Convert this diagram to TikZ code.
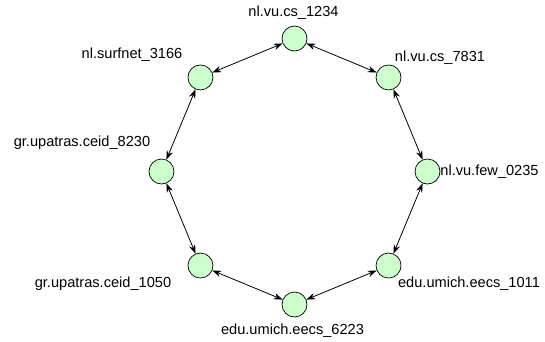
\documentclass[tikz,border=0pt]{standalone}
\usepackage{fontspec}
\setmainfont{Liberation Sans}
\usetikzlibrary{arrows.meta}
\definecolor{peerfill}{RGB}{204,255,204}

\begin{document}
\begin{tikzpicture}[x=1pt, y=1pt, font=\fontsize{14.6}{17}\selectfont,
        peer/.style={draw, circle, fill=peerfill, minimum size=25pt, inner sep=0pt, line width=0.7pt},
        link/.style={{Stealth[length=9pt,width=6.5pt]}-{Stealth[length=9pt,width=6.5pt]}, line width=0.8pt}]
        \useasboundingbox (-294.5,-169.5) rectangle (250.5,171.5);

        \node[peer] (P1) at (90:133) {};
        \node[peer] (P2) at (45:133) {};
        \node[peer] (P3) at (0:133) {};
        \node[peer] (P4) at (-45:133) {};
        \node[peer] (P5) at (-90:133) {};
        \node[peer] (P6) at (-135:133) {};
        \node[peer] (P7) at (180:133) {};
        \node[peer] (P8) at (135:133) {};

        \node (L1) at (-1,158.5) {nl.vu.cs\_1234};
        \node (L2) at (145.5,113.5) {nl.vu.cs\_7831};
        \node (L3) at (195,-0.5) {nl.vu.few\_0235};
        \node (L4) at (174.5,-112.5) {edu.umich.eecs\_1011};
        \node (L5) at (-2,-159.5) {edu.umich.eecs\_6223};
        \node (L6) at (-191.5,-112.5) {gr.upatras.ceid\_1050};
        \node (L7) at (-212.5,28.5) {gr.upatras.ceid\_8230};
        \node (L8) at (-162.5,116.5) {nl.surfnet\_3166};

        \draw[link] (P1) -- (P2);
        \draw[link] (P2) -- (P3);
        \draw[link] (P3) -- (P4);
        \draw[link] (P4) -- (P5);
        \draw[link] (P5) -- (P6);
        \draw[link] (P6) -- (P7);
        \draw[link] (P7) -- (P8);
        \draw[link] (P8) -- (P1);
    \end{tikzpicture}
\end{document}
